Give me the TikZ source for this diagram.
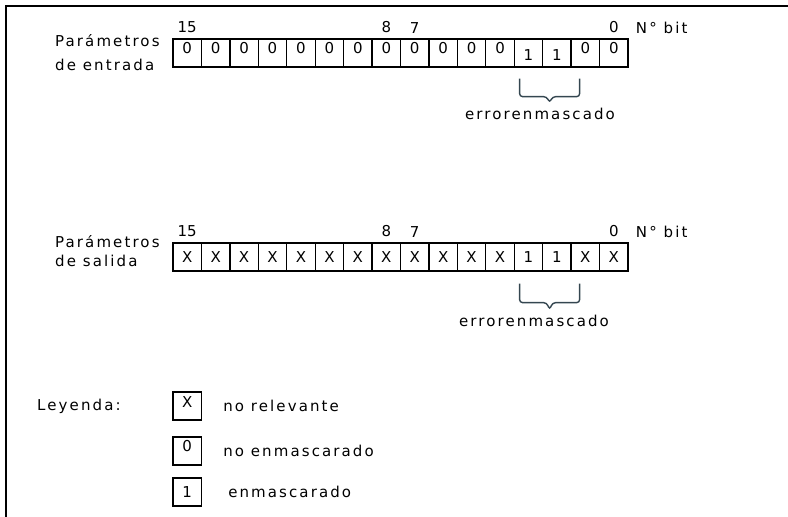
\documentclass[tikz,border=0pt]{standalone}
\usepackage{fontspec}
\usepackage{tikz}
\usetikzlibrary{positioning}

\newfontfamily\pixfont{DejaVu Sans}[LetterSpace=14]
\newfontfamily\bitfont{DejaVu Sans}
\definecolor{bracegray}{RGB}{52,70,80}
\newcommand{\inbit}[1]{\ifnum#1=0 \raisebox{5pt}{0}\else\raisebox{-2pt}{#1}\fi}

\tikzset{
    cell/.style={draw, line width=1.3pt, minimum width=28.44pt, minimum height=28pt,
        inner sep=0pt, text height=11pt, text depth=0pt, font=\bitfont\fontsize{15}{18}\selectfont},
    txt/.style={font=\pixfont\fontsize{15}{18}\selectfont, inner sep=0pt},
    num/.style={font=\bitfont\fontsize{15}{18}\selectfont, inner sep=0pt},
    brc/.style={draw=bracegray, line width=1.4pt, rounded corners=3pt},
}

\begin{document}
\begin{tikzpicture}[x=1pt, y=-1pt]
            \useasboundingbox (0,0) rectangle (788,517);
            \draw[line width=2pt] (788,6) -- (6,6) -- (6,517);

            \node[txt, anchor=west] (inname1) at (55,41) {Parámetros};
            \node[txt, anchor=west] (inname2) at (55,65) {de entrada};
            \foreach \v [count=\i from 0] in {0,0,0,0,0,0,0,0,0,0,0,0,1,1,0,0}
                \node[cell] (in\i) at ({187.2+28.44*\i},53) {\inbit{\v}};
            \node[num, above=5pt of in0] (nin15) {15};
            \node[num, above=5pt of in7] (nin8) {8};
            \node[num, above=5pt of in8] (nin7) {7};
            \node[num, above=5pt of in15] (nin0) {0};
            \node[txt, right=17pt of nin0] (nbitin) {N° bit};

            \coordinate (brin) at ([xshift=6pt,yshift=-11pt]in12.south west);
            \draw[brc] (brin) -- ++(0,18) -- ++(27,0) -- ++(3,6) -- ++(3,-6) -- ++(27,0) -- ++(0,-18);
            \node[txt] (maskin) at (540,114) {errorenmascado};

            \node[txt, anchor=west] (outname1) at (55,242) {Parámetros};
            \node[txt, anchor=west] (outname2) at (55,261) {de salida};
            \foreach \v [count=\i from 0] in {X,X,X,X,X,X,X,X,X,X,X,X,1,1,X,X}
                \node[cell] (out\i) at ({187.2+28.44*\i},257) {\v};
            \node[num, above=5pt of out0] (nout15) {15};
            \node[num, above=5pt of out7] (nout8) {8};
            \node[num, above=5pt of out8] (nout7) {7};
            \node[num, above=5pt of out15] (nout0) {0};
            \node[txt, right=17pt of nout0] (nbitout) {N° bit};

            \coordinate (brout) at ([xshift=6pt,yshift=-12pt]out12.south west);
            \draw[brc] (brout) -- ++(0,19) -- ++(27,0) -- ++(3,7) -- ++(3,-7) -- ++(27,0) -- ++(0,-19);
            \node[txt] (maskout) at (534,321) {errorenmascado};

            \node[txt, anchor=west] (keyname) at (37,406) {Leyenda:};
            \node[cell] (keyx) at (187.2,406) {\raisebox{4pt}{X}};
            \node[cell] (key0) at (187.2,451) {\raisebox{5pt}{0}};
            \node[cell] (key1) at (187.2,492) {1};
            \node[txt, right=21pt of keyx] (keyxtext) {no relevante};
            \node[txt, right=21pt of key0] (key0text) {no enmascarado};
            \node[txt, right=26pt of key1] (key1text) {enmascarado};
        \end{tikzpicture}
\end{document}
